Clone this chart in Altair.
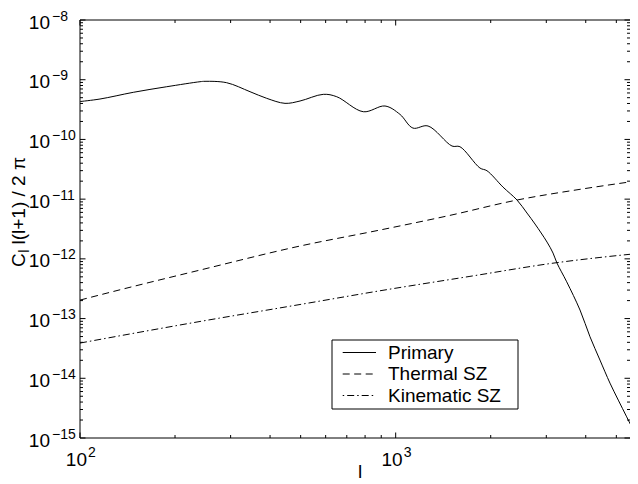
import altair as alt
import pandas as pd

# ---------------- data ----------------
primary_l = [100, 115.7, 147.5, 188.2, 240.0, 248.9, 291.5, 345.6, 390.3, 446.1,
             497.7, 589.7, 650.6, 789.6, 925.0, 1031.8, 1134, 1266, 1508, 1598,
             1849, 1946, 2188, 2423, 2606, 2763, 3016, 3151, 3243, 3481,
             3836, 4126, 4437, 4773, 5072, 5392, 5826]
primary_cl = [4.31e-10, 4.75e-10, 6.15e-10, 7.63e-10, 9.26e-10, 9.40e-10, 8.91e-10, 6.30e-10, 4.88e-10, 4.02e-10,
              4.40e-10, 5.69e-10, 5.19e-10, 2.91e-10, 3.63e-10, 2.63e-10, 1.55e-10, 1.68e-10, 7.75e-11, 7.55e-11,
              3.32e-11, 2.99e-11, 1.59e-11, 9.66e-12, 5.85e-12, 3.83e-12, 1.91e-12, 1.25e-12, 8.50e-13, 4.13e-13,
              1.39e-13, 4.96e-14, 2.02e-14, 8.31e-15, 4.31e-15, 2.26e-15, 1.0e-15]

thermal_l = [100, 129.1, 240.0, 497.7, 891.9, 1486, 2423, 3836, 5855]
thermal_cl = [2.04e-13, 2.89e-13, 6.49e-13, 1.64e-12, 3.04e-12, 5.35e-12, 9.66e-12, 1.46e-11, 2.03e-11]

kinematic_l = [100, 240, 497.7, 891.9, 1719, 3219, 4437, 5855]
kinematic_cl = [3.89e-14, 8.94e-14, 1.72e-13, 2.92e-13, 5.09e-13, 8.60e-13, 1.056e-12, 1.23e-12]

series_names = ["Primary", "Thermal SZ", "Kinematic SZ"]

x_major = [100, 1000]
x_major_exp = ["2", "3"]
x_minor = [200, 300, 400, 500, 600, 700, 800, 900, 2000, 3000, 4000, 5000]

y_major = [1e-15, 1e-14, 1e-13, 1e-12, 1e-11, 1e-10, 1e-9, 1e-8]
y_major_exp = ["\u221215", "\u221214", "\u221213", "\u221212", "\u221211", "\u221210", "\u22129", "\u22128"]
y_minor = [k * 10.0 ** e for e in range(-15, -8) for k in range(2, 10)]

# ---------------- layout ----------------
FONT = "Liberation Sans"
W, H = 550, 418
X_DOMAIN = [100, 5524]
Y_DOMAIN = [1e-15, 1e-8]
xs = alt.Scale(type="log", domain=X_DOMAIN, nice=False)
ys = alt.Scale(type="log", domain=Y_DOMAIN, nice=False)

def df_series(l, c):
    return pd.DataFrame({"l": l, "cl": c})

def line_layer(l, c, dash, interp):
    kw = dict(color="black", strokeWidth=1, interpolate=interp, clip=True)
    if dash:
        kw["strokeDash"] = dash
    return alt.Chart(df_series(l, c)).mark_line(**kw).encode(
        x=alt.X("l:Q", scale=xs, axis=None),
        y=alt.Y("cl:Q", scale=ys, axis=None),
    )

primary = line_layer(primary_l, primary_cl, None, "catmull-rom")
thermal = line_layer(thermal_l, thermal_cl, [7, 4.5], "monotone")
kinematic = line_layer(kinematic_l, kinematic_cl, [7, 3, 1.5, 3], "monotone")

one = pd.DataFrame({"a": [0]})

# frame (top, left, bottom)
frame_top = alt.Chart(one).mark_rule(color="black", strokeWidth=1).encode(
    x=alt.value(0), x2=alt.value(W), y=alt.value(0))
frame_left = alt.Chart(one).mark_rule(color="black", strokeWidth=1).encode(
    x=alt.value(0), y=alt.value(0), y2=alt.value(H))
frame_bottom = alt.Chart(one).mark_rule(color="black", strokeWidth=1).encode(
    x=alt.value(0), x2=alt.value(W), y=alt.value(H))

MAJ, MIN = 5.5, 3

def yticks(vals, length, side):
    x0, x1 = (0, length) if side == "left" else (W, W - length)
    return alt.Chart(pd.DataFrame({"v": vals})).mark_rule(color="black", strokeWidth=1).encode(
        y=alt.Y("v:Q", scale=ys, axis=None), x=alt.value(x0), x2=alt.value(x1))

def xticks(vals, length, side):
    y0, y1 = (H, H - length) if side == "bottom" else (0, length)
    return alt.Chart(pd.DataFrame({"v": vals})).mark_rule(color="black", strokeWidth=1).encode(
        x=alt.X("v:Q", scale=xs, axis=None), y=alt.value(y0), y2=alt.value(y1))

ticks = [
    yticks(y_major, MAJ, "left"), yticks(y_minor, MIN, "left"),
    yticks(y_major, MAJ, "right"), yticks(y_minor, MIN, "right"),
    xticks(x_major, MAJ, "bottom"), xticks(x_minor, MIN, "bottom"),
    xticks(x_major, MAJ, "top"), xticks(x_minor, MIN, "top"),
]

# tick labels
ylab = pd.DataFrame({"v": y_major, "b": ["10"] * len(y_major), "e": y_major_exp})
ylab_base = alt.Chart(ylab).mark_text(align="right", baseline="alphabetic", font=FONT,
                                      fontSize=19, dx=-30, dy=8.5, color="black").encode(
    y=alt.Y("v:Q", scale=ys, axis=None), x=alt.value(0), text="b:N")
ylab_exp = alt.Chart(ylab).mark_text(align="left", baseline="alphabetic", font=FONT,
                                     fontSize=14, dx=-28, dy=0.5, color="black").encode(
    y=alt.Y("v:Q", scale=ys, axis=None), x=alt.value(0), text="e:N")

xlab = pd.DataFrame({"v": x_major, "b": ["10"] * len(x_major), "e": x_major_exp})
xlab_base = alt.Chart(xlab).mark_text(align="right", baseline="alphabetic", font=FONT,
                                      fontSize=19, dx=7, color="black").encode(
    x=alt.X("v:Q", scale=xs, axis=None), y=alt.value(H + 28), text="b:N")
xlab_exp = alt.Chart(xlab).mark_text(align="left", baseline="alphabetic", font=FONT,
                                     fontSize=14, dx=8, color="black").encode(
    x=alt.X("v:Q", scale=xs, axis=None), y=alt.value(H + 18.5), text="e:N")

# axis titles
x_title = alt.Chart(one).mark_text(align="center", baseline="alphabetic", font=FONT,
                                   fontSize=19, color="black").encode(
    x=alt.value(280), y=alt.value(H + 39.5), text=alt.value("l"))

YB = 247   # bottom end of the rotated y label (plot coords)
YX = -61
yt_C = alt.Chart(one).mark_text(align="left", baseline="middle", font=FONT, fontSize=19,
                                angle=270, color="black").encode(
    x=alt.value(YX), y=alt.value(YB), text=alt.value("C"))
yt_sub = alt.Chart(one).mark_text(align="left", baseline="middle", font=FONT, fontSize=14,
                                  angle=270, color="black").encode(
    x=alt.value(YX + 6), y=alt.value(YB - 14.2), text=alt.value("l"))
yt_rest = alt.Chart(one).mark_text(align="left", baseline="middle", font=FONT, fontSize=19,
                                   angle=270, color="black").encode(
    x=alt.value(YX), y=alt.value(YB - 22.5), text=alt.value("l(l+1) / 2 \u03c0"))

# legend box
LX0, LX1, LY0, LY1 = 252, 438, 320, 389
leg_box = alt.Chart(one).mark_rect(fill="white", stroke="black", strokeWidth=1).encode(
    x=alt.value(LX0), x2=alt.value(LX1), y=alt.value(LY0), y2=alt.value(LY1))
rows = [332.5, 354, 375.5]
dashes = [None, [7, 4.5], [1.5, 3, 7, 3]]
leg_layers = [leg_box]
for name, ry, d in zip(series_names, rows, dashes):
    kw = dict(color="black", strokeWidth=1)
    if d:
        kw["strokeDash"] = d
    leg_layers.append(alt.Chart(one).mark_rule(**kw).encode(
        x=alt.value(262.7), x2=alt.value(296), y=alt.value(ry)))
    leg_layers.append(alt.Chart(one).mark_text(align="left", baseline="middle", font=FONT,
                                               fontSize=19, color="black").encode(
        x=alt.value(308), y=alt.value(ry), text=alt.value(name)))

chart = alt.layer(
    thermal, kinematic, primary,
    *ticks,
    frame_top, frame_left, frame_bottom,
    ylab_base, ylab_exp, xlab_base, xlab_exp,
    x_title, yt_C, yt_sub, yt_rest,
    *leg_layers,
).properties(
    width=W, height=H,
    autosize=alt.AutoSizeParams(type="none"),
    padding={"left": 72, "top": 12, "right": 0, "bottom": 44},
    background="white",
).configure_view(stroke=None)

chart.save("out.html", embed_options={"renderer": "svg", "actions": False})
